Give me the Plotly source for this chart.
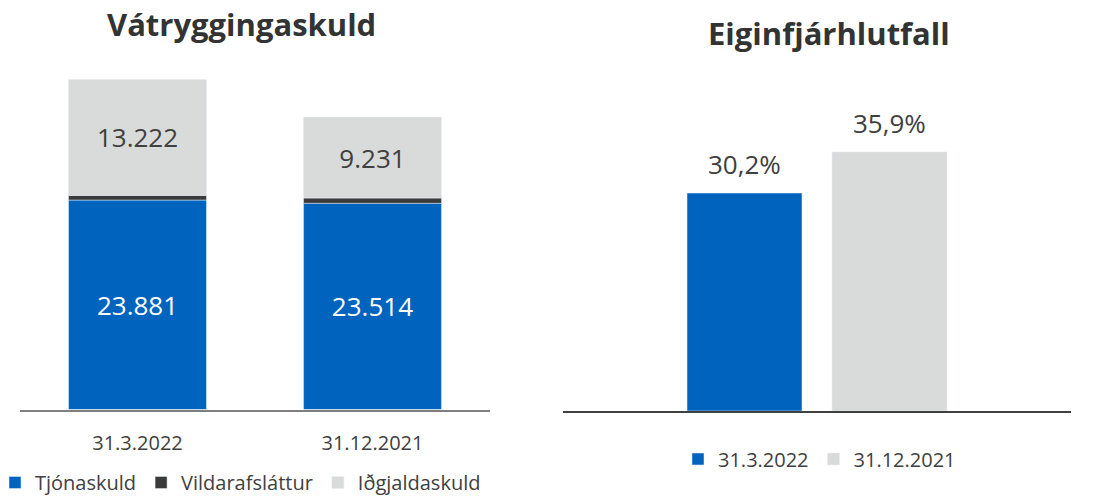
import plotly.graph_objects as go

# ---- data ----
dates = ["31.3.2022", "31.12.2021"]
tjonaskuld = [23881, 23514]
vildarafslattur = [530, 600]
idgjaldaskuld = [13222, 9231]

eigin_labels = ["31.3.2022", "31.12.2021"]
eiginfjarhlutfall = [30.2, 35.9]

BLUE = "#0064BE"
DARK = "#3A3A3A"
GREY = "#D9DADA"
TXT = "#404040"
FONT = "Open Sans"

W, H = 1094, 497

base_dark = [a for a in tjonaskuld]
base_grey = [a + b for a, b in zip(tjonaskuld, vildarafslattur)]

fig = go.Figure()

fig.add_trace(go.Bar(
    x=dates, y=tjonaskuld, name="Tjónaskuld", marker_color=BLUE,
    width=0.587, texttemplate="%{y:,.0f}", textposition="inside",
    insidetextanchor="middle", textfont=dict(color="white", size=26, family=FONT),
    xaxis="x", yaxis="y", legend="legend", hoverinfo="skip"))
fig.add_trace(go.Bar(
    x=dates, y=vildarafslattur, base=base_dark, name="Vildarafsláttur",
    marker_color=DARK, width=0.587, xaxis="x", yaxis="y", legend="legend",
    hoverinfo="skip"))
fig.add_trace(go.Bar(
    x=dates, y=idgjaldaskuld, base=base_grey, name="Iðgjaldaskuld",
    marker_color=GREY, width=0.587, texttemplate="%{y:,.0f}", textposition="inside",
    insidetextanchor="middle", textfont=dict(color=TXT, size=26, family=FONT),
    xaxis="x", yaxis="y", legend="legend", hoverinfo="skip"))

colors_r = [BLUE, GREY]
for lab, val, col in zip(eigin_labels, eiginfjarhlutfall, colors_r):
    fig.add_trace(go.Bar(
        x=[lab], y=[val], name=lab, marker_color=col, width=0.793,
        xaxis="x2", yaxis="y2", legend="legend2", hoverinfo="skip"))
    fig.add_annotation(
        x=lab, y=val, xref="x2", yref="y2", text=f"{val:.1f}%".replace(".", ","),
        showarrow=False, yanchor="middle", yshift=29,
        font=dict(size=26, color=TXT, family=FONT))

fig.add_annotation(x=241.5 / W, y=1 - 24 / H, xref="paper", yref="paper",
                   text="<b>Vátryggingaskuld</b>", showarrow=False,
                   xanchor="center", yanchor="middle",
                   font=dict(size=31, color="#333333", family=FONT))
fig.add_annotation(x=828.5 / W, y=1 - 32.5 / H, xref="paper", yref="paper",
                   text="<b>Eiginfjárhlutfall</b>", showarrow=False,
                   xanchor="center", yanchor="middle",
                   font=dict(size=31, color="#333333", family=FONT))

fig.update_layout(
    width=W, height=H,
    margin=dict(l=0, r=0, t=0, b=0, pad=0, autoexpand=False),
    paper_bgcolor="white", plot_bgcolor="white",
    barmode="overlay",
    separators=",.",
    font=dict(family=FONT, color=TXT, size=20),
    xaxis=dict(domain=[20 / W, 490 / W], range=[-0.5, 1.5],
               showline=True, linecolor="#7F7F7F", linewidth=2,
               showgrid=False, ticks="", ticklabelstandoff=14,
               tickfont=dict(size=20, color=TXT, family=FONT), fixedrange=True),
    yaxis=dict(domain=[(H - 409.5) / H, 1], range=[0, 46690], visible=False,
               showgrid=False, fixedrange=True),
    xaxis2=dict(domain=[563 / W, 1071 / W], range=[-1.252, 2.252],
                anchor="y2", showline=True, linecolor="#404040", linewidth=1.5,
                showgrid=False, showticklabels=False, ticks="", fixedrange=True),
    yaxis2=dict(domain=[(H - 411) / H, 1], range=[0, 56.95], anchor="x2",
                visible=False, showgrid=False, fixedrange=True),
    legend=dict(orientation="h", x=-5 / W, y=-5 / H, xanchor="left",
                yanchor="bottom", traceorder="normal", itemwidth=30,
                font=dict(size=20, color=TXT, family=FONT),
                bgcolor="rgba(0,0,0,0)"),
    legend2=dict(orientation="h", x=678 / W, y=38 / H, xanchor="left",
                 yanchor="middle", traceorder="normal", itemwidth=30,
                 font=dict(size=20, color=TXT, family=FONT),
                 bgcolor="rgba(0,0,0,0)"),
    showlegend=True,
)

fig.write_html(
    "out.html",
    config={"displayModeBar": False, "staticPlot": True},
    post_script="document.body.style.margin='0';"
                "document.documentElement.style.overflow='hidden';",
)
